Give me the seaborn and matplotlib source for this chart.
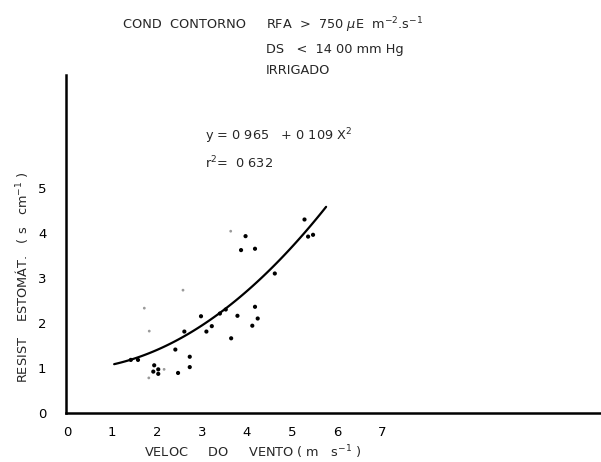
import numpy as np
import pandas as pd
import matplotlib
matplotlib.use("Agg")
import matplotlib.pyplot as plt
import seaborn as sns

# Observed points (wind speed m/s, stomatal resistance s/cm)
wind = [1.42, 1.58, 1.94, 1.92, 2.03, 2.03, 2.47, 2.73, 2.73, 2.41, 2.61,
        2.98, 3.10, 3.22, 3.40, 3.53, 3.65, 3.79, 4.12, 4.18, 4.24,
        3.97, 3.87, 4.18, 4.62, 5.28, 5.36, 5.47]
resist = [1.18, 1.18, 1.06, 0.92, 0.97, 0.87, 0.89, 1.25, 1.02, 1.41, 1.81,
          2.15, 1.81, 1.93, 2.21, 2.30, 1.66, 2.16, 1.94, 2.36, 2.10,
          3.93, 3.62, 3.65, 3.10, 4.30, 3.92, 3.96]
# faintly printed points
wind_faint = [1.82, 2.16, 1.83, 1.72, 2.58, 3.64]
resist_faint = [0.78, 0.97, 1.82, 2.33, 2.73, 4.04]

# fitted curve y = a + b x^2 (stated on chart)
coef_a = 0.965
coef_b = 0.109
fit_xmin, fit_xmax = 1.05, 5.76

xticks = [0, 1, 2, 3, 4, 5, 6, 7]
yticks = [0, 1, 2, 3, 4, 5]

sns.set_theme(style="white")
plt.rcParams['font.family'] = ['DejaVu Sans']

fig = plt.figure(figsize=(6.01, 4.62), dpi=100)
ax = fig.add_axes([66/601, 49/462, 535/601, 338/462])

df = pd.DataFrame({"x": wind, "y": resist})
dff = pd.DataFrame({"x": wind_faint, "y": resist_faint})
sns.scatterplot(data=df, x="x", y="y", ax=ax, color="black", s=9,
                edgecolor="none", legend=False)
sns.scatterplot(data=dff, x="x", y="y", ax=ax, color="#9a9a9a", s=4,
                edgecolor="none", legend=False)

xs = np.linspace(fit_xmin, fit_xmax, 100)
curve = pd.DataFrame({"x": xs, "y": coef_a + coef_b * xs ** 2})
sns.lineplot(data=curve, x="x", y="y", ax=ax, color="black", linewidth=1.6)

ax.set_xlim(-0.02, 535/45 - 0.02)
ax.set_ylim(0, 338/45)
ax.set_xticks(xticks)
ax.set_yticks(yticks)
ax.set_xticklabels([str(t) for t in xticks])
ax.set_yticklabels([str(t) for t in yticks])
ax.tick_params(axis="both", which="both", direction="in", length=3,
               width=1, colors="black", labelsize=9.5)
ax.tick_params(axis="x", pad=9)
ax.tick_params(axis="y", pad=14)
for s in ["top", "right"]:
    ax.spines[s].set_visible(False)
for s in ["left", "bottom"]:
    ax.spines[s].set_color("black")
    ax.spines[s].set_linewidth(1.8)
ax.set_xlabel("")
ax.set_ylabel("")

fs = 9.3
fig.text(123/601, 1 - 25/462, "COND  CONTORNO", fontsize=fs, va="center", ha="left")
fig.text(266/601, 1 - 25/462, r"RFA  >  750 $\mu$E  m$^{-2}$.s$^{-1}$", fontsize=fs,
         va="center", ha="left")
fig.text(266/601, 1 - 50/462, "DS   <  14 00 mm Hg", fontsize=fs, va="center", ha="left")
fig.text(266/601, 1 - 70/462, "IRRIGADO", fontsize=fs, va="center", ha="left")

fig.text(205/601, 1 - 136/462, r"y = 0 965   + 0 109 X$^{2}$", fontsize=fs,
         va="center", ha="left")
fig.text(205/601, 1 - 163/462, r"r$^{2}$=  0 632", fontsize=fs, va="center", ha="left")

fig.text(22/601, 1 - 277/462, r"RESIST    ESTOMÁT.   ( s   cm$^{-1}$ )", fontsize=fs,
         rotation=90, va="center", ha="center")
fig.text(253/601, 1 - 452/462, r"VELOC     DO     VENTO ( m   s$^{-1}$ )", fontsize=fs,
         va="center", ha="center")

fig.savefig("out.png", dpi=100, facecolor="white")
